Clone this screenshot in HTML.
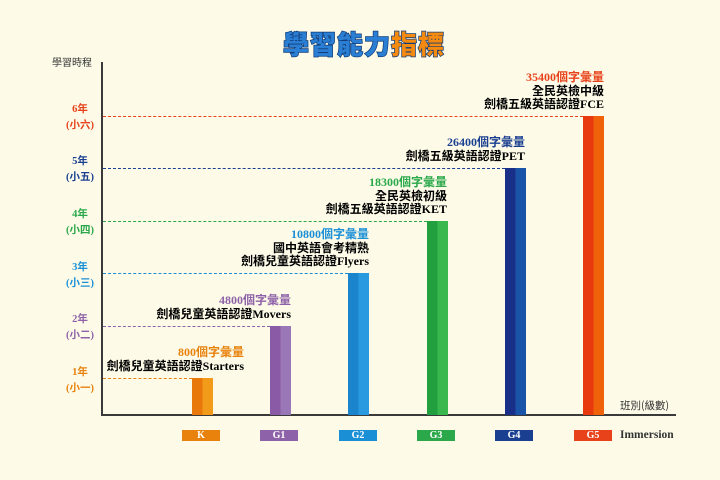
<!DOCTYPE html>
<html><head><meta charset="utf-8"><style>
body{margin:0;width:720px;height:480px;background:#fdfbe8;position:relative;overflow:hidden;font-family:"Liberation Serif","Noto Sans CJK TC",serif;}
.a{position:absolute;}
.t{position:absolute;font-size:12px;font-weight:bold;white-space:nowrap;line-height:13.5px;text-align:right;}
.y{position:absolute;font-size:10.5px;font-weight:bold;text-align:center;width:40px;left:60px;line-height:16px;}
.b{position:absolute;bottom:65px;width:21px;}
.lab{position:absolute;top:430px;width:38px;height:11px;color:#fff;font-size:10px;font-weight:bold;text-align:center;line-height:11px;}
.d{position:absolute;left:103px;height:0;border-top:1.3px dashed;}
</style></head><body>
<div class="a" style="left:283px;top:27px;font-family:'Noto Sans CJK TC',sans-serif;font-weight:900;font-size:26px;letter-spacing:1px;-webkit-text-stroke:1.5px #123d7a;paint-order:stroke;line-height:34px"><span style="color:#2a7fd4">學習能力</span><span style="color:#f58a10">指標</span></div>
<div class="a" style="left:52px;top:54px;font-size:10px;font-family:'Noto Sans CJK TC',sans-serif;color:#333">學習時程</div>
<div class="a" style="left:101px;top:62px;width:2px;height:354px;background:#3a3a3a"></div>
<div class="a" style="left:101px;top:414px;width:575px;height:2px;background:#3a3a3a"></div>
<div class="a" style="left:620px;top:398px;font-size:10.5px;font-family:'Noto Sans CJK TC',sans-serif;color:#333">班別(級數)</div>

<div class="d" style="top:378px;width:89px;border-color:#e8820c"></div>
<div class="d" style="top:326px;width:167px;border-color:#8e62a8"></div>
<div class="d" style="top:273px;width:245px;border-color:#1b8fd6"></div>
<div class="d" style="top:221px;width:324px;border-color:#2aa84a"></div>
<div class="d" style="top:168px;width:402px;border-color:#1a3f91"></div>
<div class="d" style="top:116px;width:480px;border-color:#e8421a"></div>

<div class="y" style="top:365px;color:#e8820c">1年<br>(小一)</div>
<div class="y" style="top:312px;color:#8e62a8">2年<br>(小二)</div>
<div class="y" style="top:260px;color:#1b8fd6">3年<br>(小三)</div>
<div class="y" style="top:207px;color:#2aa84a">4年<br>(小四)</div>
<div class="y" style="top:154px;color:#1a3f91">5年<br>(小五)</div>
<div class="y" style="top:102px;color:#e8421a">6年<br>(小六)</div>

<div class="b" style="left:192px;height:37px;background:linear-gradient(90deg,#e8780a 50%,#f29a1a 50%)"></div>
<div class="b" style="left:270px;height:89px;background:linear-gradient(90deg,#8a5aa6 50%,#9a78b8 50%)"></div>
<div class="b" style="left:348px;height:142px;background:linear-gradient(90deg,#1a84cc 50%,#2a9ae0 50%)"></div>
<div class="b" style="left:427px;height:194px;background:linear-gradient(90deg,#22a040 50%,#3ab84e 50%)"></div>
<div class="b" style="left:505px;height:247px;background:linear-gradient(90deg,#1a3088 50%,#1a54a8 50%)"></div>
<div class="b" style="left:583px;height:299px;background:linear-gradient(90deg,#e8380e 50%,#f0620a 50%)"></div>

<div class="t" style="right:476px;top:346px"><span style="color:#e8820c">800個字彙量</span><br>劍橋兒童英語認證Starters</div>
<div class="t" style="right:429px;top:294px"><span style="color:#8e62a8">4800個字彙量</span><br>劍橋兒童英語認證Movers</div>
<div class="t" style="right:351px;top:228px"><span style="color:#1b8fd6">10800個字彙量</span><br>國中英語會考精熟<br>劍橋兒童英語認證Flyers</div>
<div class="t" style="right:273px;top:176px"><span style="color:#2aa84a">18300個字彙量</span><br>全民英檢初級<br>劍橋五級英語認證KET</div>
<div class="t" style="right:195px;top:136px"><span style="color:#1a3f91">26400個字彙量</span><br>劍橋五級英語認證PET</div>
<div class="t" style="right:116px;top:71px"><span style="color:#e8421a">35400個字彙量</span><br>全民英檢中級<br>劍橋五級英語認證FCE</div>

<div class="lab" style="left:182px;background:#e8820c">K</div>
<div class="lab" style="left:260px;background:#8e62a8">G1</div>
<div class="lab" style="left:339px;background:#1b8fd6">G2</div>
<div class="lab" style="left:417px;background:#2aa84a">G3</div>
<div class="lab" style="left:495px;background:#1a3f91">G4</div>
<div class="lab" style="left:574px;background:#e8421a">G5</div>
<div class="a" style="left:620px;top:429px;font-size:11.5px;font-weight:bold;color:#333">Immersion</div>
</body></html>
